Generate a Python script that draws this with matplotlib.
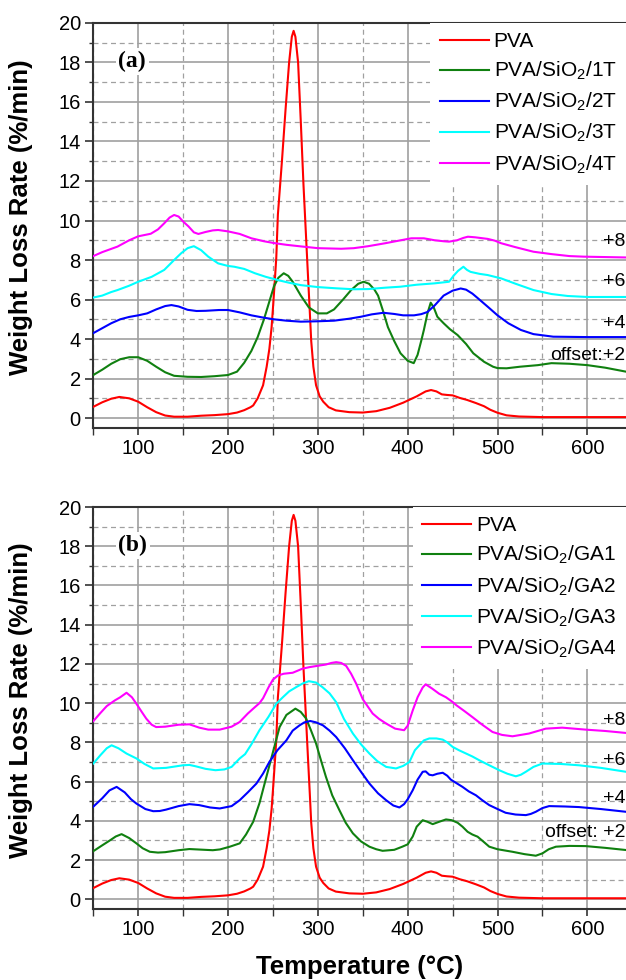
import numpy as np
import matplotlib
matplotlib.use("Agg")
import matplotlib.pyplot as plt
from matplotlib.ticker import MultipleLocator

plt.rcParams['font.family'] = 'Liberation Sans'
plt.rcParams['mathtext.default'] = 'regular'

# ---- data: temperature (C), weight loss rate (%/min) ----
# pure PVA (same curve in both panels)
t_pva = [50, 60, 70, 79, 90, 100, 110, 120, 130, 140, 155, 170, 185, 200, 210, 218, 225, 228,
         233, 239, 243, 246, 248.5, 250, 252, 253.7, 255.5, 260, 264, 268, 271, 273, 275, 278,
         281, 284, 286.5, 289, 291, 292.6, 295, 298, 302, 306, 312, 320, 335, 350, 365, 380,
         395, 410, 420, 426, 432, 438, 444, 450, 458, 466, 476, 485, 492, 500, 510, 524, 550,
         600, 643]
r_pva = [0.57, 0.8, 0.98, 1.07, 1.0, 0.83, 0.55, 0.3, 0.13, 0.07, 0.07, 0.12, 0.15, 0.2, 0.28,
         0.4, 0.55, 0.64, 1.0, 1.66, 2.6, 3.5, 4.6, 5.56, 6.9, 8.1, 10.3, 13.0, 15.6, 18.0, 19.3,
         19.6, 19.3, 18.0, 15.0, 11.8, 9.5, 7.2, 5.4, 3.9, 2.6, 1.66, 1.1, 0.83, 0.55, 0.39, 0.3,
         0.28, 0.35, 0.52, 0.78, 1.1, 1.35, 1.42, 1.35, 1.2, 1.17, 1.15, 1.02, 0.92, 0.76, 0.6,
         0.42, 0.27, 0.14, 0.08, 0.05, 0.05, 0.05]

# panel (a)
t_1t = [50, 60, 70, 80, 90, 100, 110, 120, 130, 140, 155, 170, 185, 200, 210, 218, 226, 233,
        240, 246, 251, 256, 262, 267, 272, 281, 290, 300, 310, 318, 328, 337, 345, 351, 357,
        363, 367, 372, 378, 385, 392, 400, 406.7, 411, 415, 418, 422, 425.6, 429, 433, 440,
        447, 455.6, 465, 473, 485, 495, 500, 510, 525, 545, 560, 580, 600, 620, 643]
r_1t = [2.18, 2.45, 2.75, 2.98, 3.08, 3.08, 2.9, 2.6, 2.32, 2.14, 2.09, 2.08, 2.12, 2.18, 2.35,
        2.8, 3.4, 4.1, 5.0, 5.9, 6.65, 7.1, 7.33, 7.2, 6.9, 6.2, 5.6, 5.3, 5.3, 5.5, 6.0, 6.48,
        6.8, 6.9, 6.8, 6.5, 6.2, 5.5, 4.6, 3.9, 3.28, 2.9, 2.78, 3.2, 3.9, 4.46, 5.3, 5.84, 5.6,
        5.13, 4.8, 4.5, 4.2, 3.75, 3.28, 2.85, 2.6, 2.53, 2.52, 2.6, 2.68, 2.78, 2.75, 2.68,
        2.55, 2.35]

t_2t = [50, 60, 70, 80, 90, 100, 110, 120, 130, 137, 145, 155, 165, 175, 190, 200, 213, 226,
        240, 251, 265, 281, 300, 318, 335, 348, 360, 373, 385, 395, 407, 415, 422, 430, 440,
        450, 459, 465, 472, 478, 490, 500, 512, 526, 540, 562, 600, 643]
r_2t = [4.3, 4.55, 4.8, 5.0, 5.12, 5.2, 5.3, 5.5, 5.67, 5.72, 5.65, 5.48, 5.42, 5.43, 5.47,
        5.47, 5.35, 5.2, 5.08, 5.0, 4.93, 4.88, 4.9, 4.93, 5.03, 5.13, 5.25, 5.33, 5.27, 5.2,
        5.2, 5.26, 5.37, 5.7, 6.2, 6.45, 6.56, 6.5, 6.3, 6.07, 5.6, 5.2, 4.8, 4.46, 4.25, 4.12,
        4.1, 4.1]

t_3t = [50, 60, 70, 77, 90, 100, 115, 129, 140, 148, 155, 162, 170, 178, 189, 200, 207, 218,
        230, 242, 255, 268, 281, 300, 320, 340, 356, 375, 392, 410, 430, 446, 451, 456, 462,
        466, 470, 480, 489, 504, 520, 540, 560, 578, 600, 643]
r_3t = [6.1, 6.2, 6.38, 6.48, 6.7, 6.9, 7.15, 7.5, 8.0, 8.35, 8.6, 8.7, 8.5, 8.17, 7.83, 7.7,
        7.66, 7.55, 7.33, 7.15, 6.99, 6.85, 6.73, 6.63, 6.57, 6.52, 6.53, 6.6, 6.65, 6.75, 6.82,
        6.9, 7.2, 7.45, 7.66, 7.5, 7.4, 7.3, 7.24, 7.07, 6.8, 6.48, 6.28, 6.18, 6.13, 6.13]

t_4t = [50, 60, 77, 90, 100, 114, 122, 129, 135, 140, 145, 150, 156, 162, 167, 175, 183, 189,
        200, 213, 226, 240, 251, 265, 281, 300, 326, 340, 356, 375, 390, 404, 418, 430, 440,
        446, 455, 462, 467, 475, 489, 497, 504, 520, 540, 560, 580, 596, 643]
r_4t = [8.2, 8.4, 8.68, 9.0, 9.2, 9.33, 9.55, 9.86, 10.15, 10.28, 10.2, 9.95, 9.7, 9.4, 9.32,
        9.42, 9.5, 9.52, 9.45, 9.32, 9.1, 8.95, 8.86, 8.77, 8.69, 8.6, 8.57, 8.6, 8.7, 8.85,
        8.98, 9.1, 9.1, 9.0, 8.95, 8.93, 9.0, 9.12, 9.18, 9.15, 9.07, 8.98, 8.85, 8.65, 8.42,
        8.3, 8.2, 8.17, 8.13]

# panel (b)
t_ga1 = [50, 60, 68.5, 75, 81.5, 90, 98, 105, 113, 122, 130, 145, 157, 170, 183, 191, 202,
         213, 220, 228, 235, 242.7, 250, 257.4, 265, 275, 281, 287, 292, 298, 304, 309, 316,
         324, 331, 339, 348, 357.4, 365, 372, 385, 394, 400, 405.6, 410, 416.7, 422, 427.8,
         435, 442.6, 449, 455.6, 461, 466.7, 472, 477.8, 484, 490.8, 500, 516.7, 530, 542.6,
         550, 557, 565, 580, 598, 620, 643]
r_ga1 = [2.45, 2.75, 3.0, 3.2, 3.32, 3.12, 2.85, 2.6, 2.42, 2.38, 2.4, 2.5, 2.56, 2.53, 2.5,
         2.54, 2.68, 2.85, 3.3, 3.95, 4.9, 6.24, 7.5, 8.78, 9.4, 9.72, 9.55, 9.21, 8.65, 7.94,
         7.0, 6.24, 5.3, 4.54, 3.9, 3.36, 2.95, 2.68, 2.55, 2.47, 2.52, 2.68, 2.8, 3.2, 3.7,
         4.03, 3.95, 3.83, 3.95, 4.07, 4.03, 3.9, 3.7, 3.44, 3.3, 3.19, 2.95, 2.68, 2.55, 2.42,
         2.3, 2.22, 2.34, 2.55, 2.68, 2.72, 2.71, 2.62, 2.51]

t_ga2 = [50, 60, 68, 76, 85, 92, 98, 108, 116.7, 124, 131, 145, 157, 168, 180, 190.8, 204, 213,
         222, 231.6, 239, 246, 255, 264.9, 272, 279.7, 285, 291.5, 298, 305.6, 313, 320.4, 330,
         339, 348, 357.4, 367, 376, 384, 390.8, 396, 400, 405.6, 411, 416.7, 420, 424, 427.8,
         433, 439, 444, 448, 455, 461, 468, 476, 483, 490.8, 500, 509, 520, 531.5, 537, 542.6,
         550, 557.4, 575, 590.8, 615, 643]
r_ga2 = [4.72, 5.15, 5.55, 5.73, 5.45, 5.1, 4.88, 4.6, 4.49, 4.5, 4.57, 4.75, 4.85, 4.8, 4.68,
         4.63, 4.75, 5.05, 5.45, 5.9, 6.41, 7.0, 7.6, 8.1, 8.6, 8.87, 9.02, 9.09, 9.02, 8.87,
         8.6, 8.27, 7.7, 7.09, 6.5, 5.9, 5.4, 5.05, 4.78, 4.68, 4.85, 5.1, 5.56, 6.1, 6.5, 6.52,
         6.35, 6.32, 6.4, 6.45, 6.3, 6.1, 5.9, 5.73, 5.5, 5.3, 5.05, 4.8, 4.6, 4.41, 4.32, 4.29,
         4.35, 4.46, 4.65, 4.75, 4.73, 4.7, 4.6, 4.46]

t_ga3 = [50, 58, 65, 70.4, 78, 87, 98, 107, 116.7, 131, 149.6, 157, 164, 175, 186, 196, 204,
         213, 219, 226, 235, 245, 253.7, 261, 268, 276, 283, 290, 298, 305, 313, 320.4, 329,
         339, 348, 357.4, 366, 376, 387, 395, 401.9, 408, 413, 418, 424, 432, 439, 444, 450,
         457, 465, 472, 479.6, 490, 501.9, 511, 520.4, 526, 531.5, 540, 550, 570, 591, 615, 643]
r_ga3 = [6.92, 7.35, 7.7, 7.85, 7.7, 7.43, 7.18, 6.9, 6.67, 6.7, 6.83, 6.85, 6.78, 6.65, 6.58,
         6.62, 6.75, 7.18, 7.4, 7.9, 8.62, 9.3, 9.97, 10.3, 10.6, 10.82, 11.0, 11.12, 11.05,
         10.82, 10.5, 10.05, 9.2, 8.45, 7.9, 7.43, 7.05, 6.75, 6.67, 6.8, 7.0, 7.6, 7.85, 8.1,
         8.2, 8.2, 8.14, 8.0, 7.77, 7.6, 7.43, 7.28, 7.09, 6.85, 6.58, 6.4, 6.27, 6.35, 6.5,
         6.75, 6.92, 6.9, 6.83, 6.7, 6.5]

t_ga4 = [50, 58, 65, 74, 80, 87, 93, 98, 104, 109, 115, 120, 130, 145, 157, 168, 178, 190.8,
         204, 213, 222, 230, 235, 239, 245, 250, 255.6, 262, 272, 283, 291, 302, 309, 315,
         320.4, 326, 331.5, 337, 342.6, 350, 356, 361, 368, 376, 386, 396, 400, 405.6, 411,
         416.7, 420, 427, 435, 442.6, 450, 454, 463, 472, 483, 494.4, 505, 516.7, 535, 553.7,
         572, 598, 620, 643]
r_ga4 = [9.08, 9.5, 9.85, 10.14, 10.3, 10.53, 10.3, 9.97, 9.55, 9.21, 8.9, 8.78, 8.8, 8.9,
         8.92, 8.75, 8.65, 8.65, 8.8, 9.04, 9.47, 9.8, 10.0, 10.25, 10.8, 11.2, 11.41, 11.5,
         11.55, 11.76, 11.84, 11.92, 11.97, 12.05, 12.09, 12.05, 11.9, 11.5, 11.0, 10.2, 9.8,
         9.47, 9.2, 8.96, 8.7, 8.62, 8.85, 9.63, 10.3, 10.8, 10.96, 10.75, 10.48, 10.3, 10.06,
         9.9, 9.6, 9.29, 8.9, 8.53, 8.38, 8.31, 8.45, 8.7, 8.75, 8.65, 8.58, 8.48]

labels_a = ['PVA', 'PVA/SiO$_2$/1T', 'PVA/SiO$_2$/2T', 'PVA/SiO$_2$/3T', 'PVA/SiO$_2$/4T']
labels_b = ['PVA', 'PVA/SiO$_2$/GA1', 'PVA/SiO$_2$/GA2', 'PVA/SiO$_2$/GA3', 'PVA/SiO$_2$/GA4']
colors = ['#ff0000', '#108010', '#0000ff', '#00ffff', '#ff00ff']
offset_text_a = [('+8', 8.93), ('+6', 6.9), ('+4', 4.8), ('offset:+2', 3.19)]
offset_text_b = [('+8', 9.12), ('+6', 7.09), ('+4', 5.14), ('offset: +2', 3.4)]

fig = plt.figure(figsize=(6.26, 9.8), dpi=100)
ax_a = fig.add_axes([0.149, 0.5633, 0.851, 0.4133])
ax_b = fig.add_axes([0.149, 0.0724, 0.851, 0.4102])

panels = [
    (ax_a, [(t_pva, r_pva), (t_1t, r_1t), (t_2t, r_2t), (t_3t, r_3t), (t_4t, r_4t)], labels_a, offset_text_a, '(a)'),
    (ax_b, [(t_pva, r_pva), (t_ga1, r_ga1), (t_ga2, r_ga2), (t_ga3, r_ga3), (t_ga4, r_ga4)], labels_b, offset_text_b, '(b)'),
]

for ax, series, labels, offs, tag in panels:
    for (t, r), lab, c in zip(series, labels, colors):
        ax.plot(t, r, color=c, lw=1.5, label=lab, zorder=3)
    ax.set_xlim(50, 643)
    ax.set_ylim(-0.5, 20)
    ax.xaxis.set_major_locator(MultipleLocator(100))
    ax.xaxis.set_minor_locator(MultipleLocator(50))
    ax.yaxis.set_major_locator(MultipleLocator(2))
    ax.yaxis.set_minor_locator(MultipleLocator(1))
    ax.set_axisbelow(True)
    ax.grid(which='major', color='#a0a0a0', lw=1.2, ls='-')
    ax.grid(which='minor', color='#a0a0a0', lw=0.9, ls=(0, (4, 3)))
    ax.tick_params(which='both', direction='out', labelsize=14.5, colors='#333333',
                   labelcolor='black', pad=3)
    ax.tick_params(axis='y', which='major', length=6, width=1.2)
    ax.tick_params(axis='y', which='minor', length=3, width=1.0)
    ax.tick_params(axis='x', which='major', length=5, width=1.2)
    ax.tick_params(axis='x', which='minor', length=5, width=1.0)
    ax.spines['right'].set_visible(False)
    for s in ['top', 'bottom', 'left']:
        ax.spines[s].set_color('#333333')
        ax.spines[s].set_linewidth(1.5)
    ax.set_ylabel('Weight Loss Rate (%/min)', fontsize=18.5, fontweight='bold')
    ax.yaxis.set_label_coords(-0.113, 0.52)
    leg = ax.legend(loc='upper right', bbox_to_anchor=(1.0, 1.0), borderaxespad=0,
                    fontsize=15, frameon=True, fancybox=False, framealpha=1,
                    edgecolor='none', facecolor='white', handlelength=2.35,
                    handletextpad=0.25, labelspacing=0.42, borderpad=0.45)
    leg.set_zorder(5)
    for txt, yv in offs:
        ax.text(642, yv, txt, ha='right', va='center', fontsize=14, zorder=4)
    ax.text(78, 18.05, tag, ha='left', va='center', fontsize=17, fontweight='bold',
            family='Liberation Serif', zorder=4,
            bbox=dict(facecolor='white', edgecolor='none', pad=2))

ax_b.set_xlabel('Temperature (°C)', fontsize=18.5, fontweight='bold')
ax_b.xaxis.set_label_coords(0.5, -0.115)

fig.savefig('out.png', dpi=100)
